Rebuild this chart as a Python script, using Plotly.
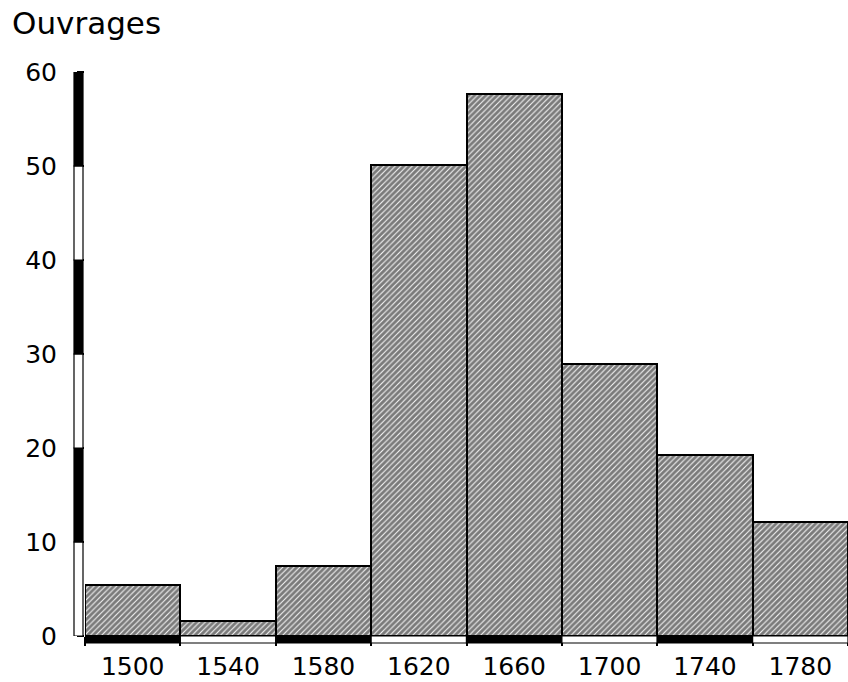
import plotly.graph_objects as go

# ---- data ----
bin_centers = [1500, 1540, 1580, 1620, 1660, 1700, 1740, 1780]
bin_labels = ["1500", "1540", "1580", "1620", "1660", "1700", "1740", "1780"]
ouvrages = [5.4, 1.6, 7.4, 50.1, 57.7, 28.9, 19.3, 12.1]
bin_width = 40
y_ticks = [0, 10, 20, 30, 40, 50, 60]
y_title = "Ouvrages"

bin_edges = [c - bin_width / 2 for c in bin_centers] + [bin_centers[-1] + bin_width / 2]

W, H = 848, 682
L, R, T, B = 74, 0, 72, 39
plot_w = W - L - R
plot_h = H - T - B
strip_h = 7           # height of the x scale strip (px)
strip_w = 9           # width of the y scale strip (px)
x_dom0 = 11 / plot_w
y_dom0 = strip_h / plot_h

FONT = "DejaVu Sans"

fig = go.Figure()
fig.add_trace(go.Bar(
    x=bin_centers, y=ouvrages, width=bin_width,
    marker=dict(
        color="white",
        line=dict(color="black", width=2),
        pattern=dict(shape="/", fgcolor="#000000", bgcolor="#f4f4f4",
                     size=4, solidity=0.72),
    ),
    showlegend=False, hoverinfo="x+y",
))
# invisible trace to carry the centred labels axis
fig.add_trace(go.Scatter(x=bin_centers, y=[0] * len(bin_centers), xaxis="x2",
                         mode="markers", marker=dict(opacity=0),
                         showlegend=False, hoverinfo="skip"))

shapes = []
# y scale strip (alternating black/white segments)
for i in range(len(y_ticks) - 1):
    shapes.append(dict(type="rect", xref="paper", yref="y",
                       x0=0, x1=strip_w / plot_w, y0=y_ticks[i], y1=y_ticks[i + 1],
                       fillcolor="black" if i % 2 == 1 else "white",
                       line=dict(color="black", width=1.2), layer="above"))
# x scale strip
for i in range(len(bin_edges) - 1):
    shapes.append(dict(type="rect", xref="x", yref="paper",
                       x0=bin_edges[i], x1=bin_edges[i + 1], y0=0, y1=y_dom0,
                       fillcolor="black" if i % 2 == 0 else "white",
                       line=dict(color="black", width=1.2), layer="above"))

fig.update_layout(
    width=W, height=H,
    margin=dict(l=L, r=R, t=T, b=B, pad=0),
    paper_bgcolor="white", plot_bgcolor="white",
    bargap=0,
    font=dict(family=FONT, color="black"),
    title=dict(text=y_title, x=12 / W, xref="container", xanchor="left",
               y=1 - 23 / H, yref="container", yanchor="middle",
               font=dict(size=31, family=FONT, color="black")),
    xaxis=dict(domain=[x_dom0, 1], range=[bin_edges[0], bin_edges[-1]],
               tickmode="array", tickvals=bin_edges, ticktext=[""] * len(bin_edges),
               ticks="outside", ticklen=9, tickwidth=1.5, tickcolor="black",
               showgrid=False, zeroline=False, showline=False),
    xaxis2=dict(domain=[x_dom0, 1], overlaying="x", matches="x", anchor="y",
                side="bottom",
                tickmode="array", tickvals=bin_centers, ticktext=bin_labels,
                ticks="outside", ticklen=8, tickcolor="rgba(0,0,0,0)",
                tickfont=dict(size=25, family=FONT, color="black"),
                showgrid=False, zeroline=False, showline=False),
    yaxis=dict(domain=[y_dom0, 1], range=[0, 60],
               tickmode="array", tickvals=y_ticks,
               ticks="outside", ticklen=7, tickwidth=1.5, tickcolor="black",
               tickfont=dict(size=25, family=FONT, color="black"),
               ticklabelstandoff=15,
               showgrid=False, zeroline=False, showline=False),
    shapes=shapes,
)

fig.write_html("out.html", config={"displayModeBar": False},
               post_script="document.body.style.margin='0';")
